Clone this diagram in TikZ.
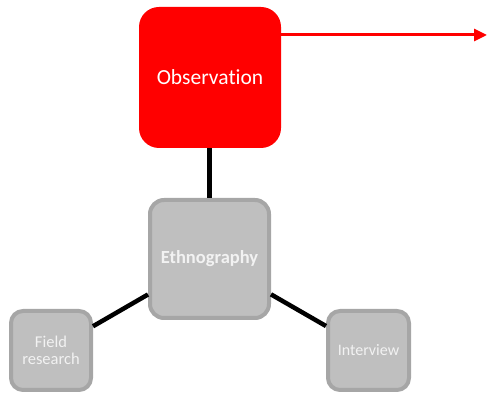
\documentclass[tikz,border=0pt]{standalone}
\usepackage{fontspec}
\setmainfont{Carlito}[Ligatures={NoCommon}]
\usetikzlibrary{arrows.meta}
\definecolor{obsred}{HTML}{FF0000}
\definecolor{boxgray}{HTML}{BFBFBF}
\definecolor{bordergray}{HTML}{A6A6A6}
\definecolor{txtwhite}{HTML}{F2F2F2}
\tikzset{
  obsbox/.style={fill=obsred, draw=none, rounded corners=20pt, minimum width=142pt, minimum height=141pt, inner sep=0pt, text=white, font=\fontsize{21.5}{24}\selectfont},
  graybox/.style={fill=boxgray, draw=bordergray, line width=4pt, rounded corners=14pt, inner sep=0pt, text=txtwhite, align=center},
  conn/.style={line width=4.5pt, black},
}
\begin{document}
\begin{tikzpicture}[x=1pt,y=1pt]
\useasboundingbox (0,0) rectangle (487,393);
\coordinate (arrowend) at (487,358);
\node[obsbox] (obs) at (210,315.5) {Observation};
\node[graybox, minimum width=119pt, minimum height=118pt, font=\bfseries\fontsize{18.5}{20}\selectfont] (eth) at (209.5,134) {Ethnography};
\node[graybox, minimum width=80pt, minimum height=79pt, rounded corners=12pt, font=\fontsize{16.5}{17}\selectfont] (field) at (51,42.5) {Field\\research};
\node[graybox, minimum width=81pt, minimum height=79pt, rounded corners=12pt, font=\fontsize{16}{17}\selectfont] (inter) at (368.5,42.5) {Interview};
\draw[conn] (obs.south -| eth.north) -- (eth.north);
\draw[conn] (eth) -- (field);
\draw[conn] (eth) -- (inter);
\draw[obsred, line width=3pt, -{Triangle[length=13pt,width=12pt]}] (obs.east |- arrowend) -- (arrowend);
\end{tikzpicture}
\end{document}
